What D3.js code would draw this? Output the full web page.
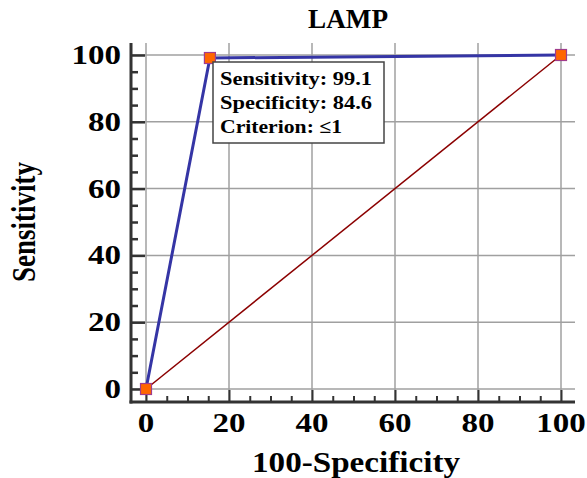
<!DOCTYPE html>
<html><head><meta charset="utf-8">
<script src="https://cdn.jsdelivr.net/npm/d3@7"></script>
<style>body{margin:0;background:#fff;}text{font-family:"Liberation Serif","Times New Roman",serif;font-weight:bold;fill:#000;}</style>
</head><body><svg id="c" width="587" height="478"></svg>
<script>
const title = "LAMP";
const xLabel = "100-Specificity";
const yLabel = "Sensitivity";
const rocX = [0, 15.4, 100];
const rocY = [0, 99.1, 100];
const diagX = [0, 100];
const diagY = [0, 100];
const majorTicks = [0, 20, 40, 60, 80, 100];
const minorTicks = [5,10,15,25,30,35,45,50,55,65,70,75,85,90,95];
const infoLines = ["Sensitivity: 99.1", "Specificity: 84.6", "Criterion: \u22641"];

const svg = d3.select("#c");
const x = d3.scaleLinear().domain([0,100]).range([146,561]);
const y = d3.scaleLinear().domain([0,100]).range([389,55]);
const axL = 131, axB = 402, xEnd = 575, yTop = 43;
const digitW = 16.5;

// gridlines
svg.append("g").selectAll("line").data(majorTicks).join("line")
  .attr("x1", axL).attr("x2", xEnd).attr("y1", d=>y(d)).attr("y2", d=>y(d))
  .attr("stroke", "#a0a0a0").attr("stroke-width", 1.5);
svg.append("g").selectAll("line").data(majorTicks).join("line")
  .attr("x1", d=>x(d)).attr("x2", d=>x(d)).attr("y1", yTop).attr("y2", axB)
  .attr("stroke", "#a0a0a0").attr("stroke-width", 1.5);

// axes
const yAxis = d3.axisRight(y).tickValues(majorTicks).tickSize(14).tickFormat("");
const yAxisMinor = d3.axisRight(y).tickValues(minorTicks).tickSize(7).tickFormat("");
const xAxis = d3.axisTop(x).tickValues(majorTicks).tickSize(12).tickFormat("");
const xAxisMinor = d3.axisTop(x).tickValues(minorTicks).tickSize(6).tickFormat("");
[yAxis, yAxisMinor].forEach(a => {
  const g = svg.append("g").attr("transform", `translate(${axL},0)`).call(a);
  g.select(".domain").remove();
  g.selectAll("line").attr("stroke", "#333").attr("stroke-width", 2.5);
});
[xAxis, xAxisMinor].forEach(a => {
  const g = svg.append("g").attr("transform", `translate(0,${axB})`).call(a);
  g.select(".domain").remove();
  g.selectAll("line").attr("stroke", "#333").attr("stroke-width", 2);
});
svg.append("line").attr("x1", axL).attr("x2", axL).attr("y1", yTop).attr("y2", axB+1.5)
  .attr("stroke", "#333").attr("stroke-width", 3);
svg.append("line").attr("x1", axL-1.5).attr("x2", xEnd).attr("y1", axB).attr("y2", axB)
  .attr("stroke", "#333").attr("stroke-width", 3);

// tick labels
svg.append("g").selectAll("text").data(majorTicks).join("text")
  .attr("x", 121).attr("y", d=>y(d)+9).attr("text-anchor","end")
  .attr("font-size", 27).attr("textLength", d=>String(d).length*digitW)
  .attr("lengthAdjust","spacingAndGlyphs").text(d=>d);
svg.append("g").selectAll("text").data(majorTicks).join("text")
  .attr("x", d=>x(d)).attr("y", 432).attr("text-anchor","middle")
  .attr("font-size", 27).attr("textLength", d=>String(d).length*digitW)
  .attr("lengthAdjust","spacingAndGlyphs").text(d=>d);

// diagonal
svg.append("path").datum(diagX.map((d,i)=>[d, diagY[i]]))
  .attr("d", d3.line().x(d=>x(d[0])).y(d=>y(d[1])))
  .attr("fill","none").attr("stroke","#8b0000").attr("stroke-width",1.5);
// ROC
svg.append("path").datum(rocX.map((d,i)=>[d, rocY[i]]))
  .attr("d", d3.line().x(d=>x(d[0])).y(d=>y(d[1])))
  .attr("fill","none").attr("stroke","#3535a5").attr("stroke-width",3);
svg.append("g").selectAll("rect").data(rocX.map((d,i)=>[d, rocY[i]])).join("rect")
  .attr("x", d=>x(d[0])-5.5).attr("y", d=>y(d[1])-5.5).attr("width",11).attr("height",11)
  .attr("fill","#ff6600").attr("stroke","#a03c8c").attr("stroke-width",1.2);

// info box
svg.append("rect").attr("x",213).attr("y",62).attr("width",171).attr("height",81)
  .attr("fill","#fff").attr("stroke","#444").attr("stroke-width",1.5);
const lens = [152, 152, 122];
svg.append("g").selectAll("text").data(infoLines).join("text")
  .attr("x",220).attr("y",(d,i)=>85+i*24).attr("font-size",19)
  .attr("textLength",(d,i)=>lens[i]).attr("lengthAdjust","spacingAndGlyphs").text(d=>d);

// titles
svg.append("text").attr("x",348).attr("y",28).attr("text-anchor","middle")
  .attr("font-size",27).attr("textLength",80).attr("lengthAdjust","spacingAndGlyphs").text(title);
svg.append("text").attr("x",356).attr("y",472).attr("text-anchor","middle")
  .attr("font-size",30).attr("textLength",208).attr("lengthAdjust","spacingAndGlyphs").text(xLabel);
svg.append("text").attr("transform","translate(35,222) rotate(-90) scale(1,1.3)").attr("text-anchor","middle")
  .attr("font-size",26).attr("textLength",120).attr("lengthAdjust","spacingAndGlyphs").text(yLabel);
</script></body></html>
